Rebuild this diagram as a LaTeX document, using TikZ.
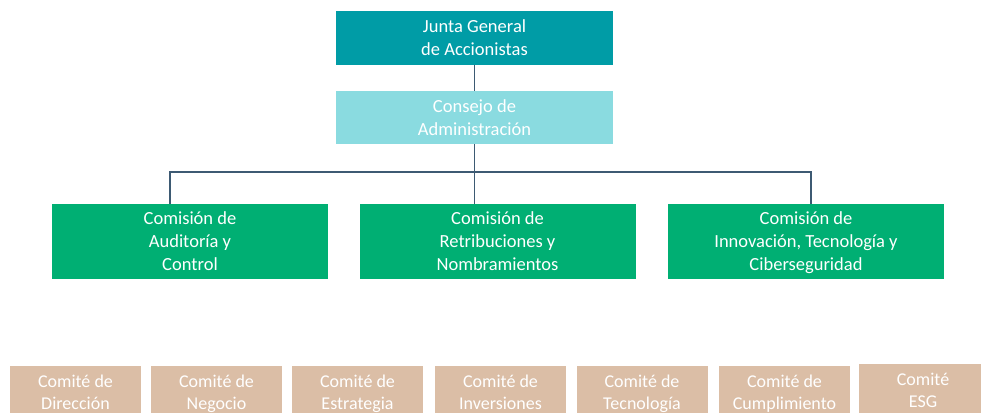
\documentclass[tikz,border=0pt]{standalone}
\usepackage{fontspec}
\setmainfont{Carlito}
\definecolor{juntacol}{HTML}{009CA6}
\definecolor{consejocol}{HTML}{8ADBE0}
\definecolor{comisioncol}{HTML}{00AF73}
\definecolor{comitecol}{HTML}{DBBEA6}
\definecolor{linecol}{HTML}{3D5A73}
\begin{document}
\begin{tikzpicture}[
        x=1pt, y=-1pt,
        box/.style={inner sep=0pt, align=center, text=white, font=\fontsize{18.5}{23}\selectfont,
            execute at begin node=\strut, execute at end node=\strut, text depth=-1.5pt},
        junta/.style={box, fill=juntacol, minimum width=277pt, minimum height=53pt},
        consejo/.style={box, fill=consejocol, minimum width=277pt, minimum height=53pt},
        comision/.style={box, fill=comisioncol, minimum width=276pt, minimum height=75pt},
        comite/.style={box, fill=comitecol, minimum width=131pt, minimum height=52pt, font=\fontsize{18}{22}\selectfont},
        conn/.style={draw=linecol, line width=1.4pt},
    ]
    \useasboundingbox (0,0) rectangle (981,412);
    \clip (0,0) rectangle (981,412);

    % Organos de gobierno
    \node[junta] (junta) at (474.5,38) {Junta General\\de Accionistas};
    \node[consejo] (consejo) at (474.5,117.5) {Consejo de\\Administración};

    % Comisiones
    \node[comision] (com1) at (190,241.5) {Comisión de\\Auditoría y\\Control};
    \node[comision] (com2) at (497.5,241.5) {Comisión de\\Retribuciones y\\Nombramientos};
    \node[comision] (com3) at (806,241.5) {Comisión de\\Innovación, Tecnología y\\Ciberseguridad};

    % Comites
    \foreach \i/\cx/\txt in {1/75.5/{Comité de\\Dirección}, 2/216.5/{Comité de\\Negocio},
            3/357.5/{Comité de\\Estrategia}, 4/500.5/{Comité de\\Inversiones},
            5/642/{Comité de\\Tecnología}, 6/784.5/{Comité de\\Cumplimiento}} {
        \node[comite] (comite\i) at (\cx,392) {\txt};
    }
    \node[comite, minimum width=128pt] (comite7) at (923,390) {Comité\\ESG};

    % Conectores
    \coordinate (b1) at (170,172);
    \coordinate (b3) at (811,172);
    \draw[conn] (junta) -- (consejo);
    \draw[conn] (consejo) -- (consejo |- com2.north);
    \draw[conn] (com1.north -| b1) |- (b3) -- (com3.north -| b3);

\end{tikzpicture}
\end{document}
